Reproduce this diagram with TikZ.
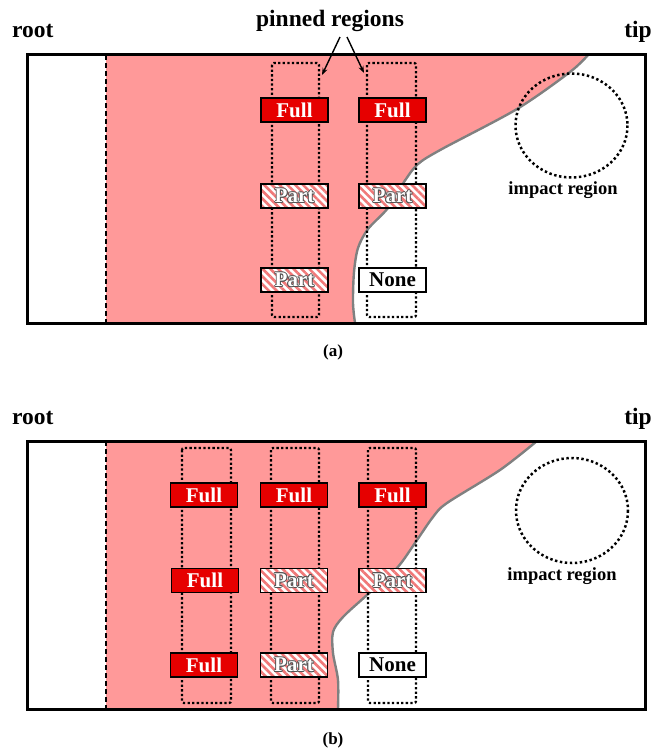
\documentclass[tikz,border=0pt]{standalone}
\usepackage{fontspec}
\setmainfont{Liberation Serif}
\usetikzlibrary{patterns.meta,arrows.meta}

\definecolor{zonepink}{RGB}{255,153,153}
\definecolor{fullred}{RGB}{230,0,0}
\definecolor{stripe}{RGB}{240,120,120}
\definecolor{halo}{RGB}{85,85,85}
\definecolor{edgegray}{RGB}{128,128,128}

% white lettering with a grey rim
\newcommand\halocopy[3]{\rlap{\hspace{#1}\raisebox{#2}{\textcolor{halo}{#3}}}}
\newcommand\halotext[1]{%
  \leavevmode
  \halocopy{-0.9pt}{0pt}{#1}\halocopy{0.9pt}{0pt}{#1}%
  \halocopy{0pt}{0.9pt}{#1}\halocopy{0pt}{-0.9pt}{#1}%
  \halocopy{-0.65pt}{0.65pt}{#1}\halocopy{0.65pt}{0.65pt}{#1}%
  \halocopy{-0.65pt}{-0.65pt}{#1}\halocopy{0.65pt}{-0.65pt}{#1}%
  \textcolor{white}{#1}}

\tikzset{
  cell/.style={minimum width=67pt,minimum height=24pt,inner sep=0pt,
    draw=black,line width=1.7pt,font=\fontsize{21}{21}\selectfont\bfseries},
  fullcell/.style={cell,fill=fullred,text=white},
  partcell/.style={cell,preaction={fill=white},
    pattern={Lines[angle=-45,distance=5.5pt,line width=2.6pt]},pattern color=stripe},
  nonecell/.style={cell,fill=white},
  pinbox/.style={draw=black,line width=2.3pt,dash pattern=on 2.3pt off 2.3pt,rounded corners=2pt},
  frame/.style={draw=black,line width=3pt},
  rootline/.style={line width=2pt,dash pattern=on 5pt off 3pt},
  front/.style={draw=edgegray,line width=2.4pt},
  impact/.style={line width=2.5pt,dash pattern=on 2.4pt off 2.6pt},
  lbl/.style={font=\fontsize{23.5}{23.5}\selectfont\bfseries,inner sep=0pt},
  smalltxt/.style={font=\fontsize{18.5}{18.5}\selectfont\bfseries,inner sep=0pt},
  captxt/.style={font=\fontsize{17}{17}\selectfont\bfseries,inner sep=0pt},
  pinarrow/.style={line width=1.4pt,-{Stealth[length=7pt,width=5pt]}}
}

\begin{document}
\begin{tikzpicture}[x=1pt,y=-1pt]
\useasboundingbox (0,0) rectangle (668,753);

% ---------------- panel (a) ----------------
\fill[zonepink] (106,55) -- plot[smooth,tension=0.5] coordinates {(588,55) (570,72) (517,109) (442,149) (418,164) (404,182) (388,208) (368,229) (358,248) (354,272) (353,303) (355,323)} -- (106,323) -- cycle;
\draw[front] plot[smooth,tension=0.5] coordinates {(588,55) (570,72) (517,109) (442,149) (418,164) (404,182) (388,208) (368,229) (358,248) (354,272) (353,303) (355,323)};
\draw[rootline] (106,55) -- (106,323);

\draw[pinbox] (272,63) rectangle (319,317);
\draw[pinbox] (367,63) rectangle (416,317);

\node[fullcell] (a11) at (294.5,110) {Full};
\node[fullcell] (a12) at (392.5,110) {Full};
\node[partcell] (a21) at (294.5,196) {\halotext{Part}};
\node[partcell] (a22) at (392.5,196) {\halotext{Part}};
\node[partcell] (a31) at (294.5,280) {\halotext{Part}};
\node[nonecell] (a32) at (392.5,280) {None};

\draw[frame] (27,54.5) rectangle (645,323);
\draw[impact] (571.5,125.5) ellipse [x radius=56, y radius=52];
\node[smalltxt] (aimp) at (563,190) {impact region};

\node[lbl,anchor=base west] (aroot) at (12,37) {root};
\node[lbl,anchor=base east] (atip) at (652,37) {tip};
\node[lbl,anchor=base] (pinlab) at (330,26) {pinned regions};
\coordinate (pinfromL) at (340,37);
\coordinate (pinfromR) at (347,37);
\coordinate (pintoL) at (322,75);
\coordinate (pintoR) at (364,73);
\draw[pinarrow] (pinfromL) -- (pintoL);
\draw[pinarrow] (pinfromR) -- (pintoR);

\node[captxt] (capa) at (333,352) {(a)};

% ---------------- panel (b) ----------------
\fill[zonepink] (106,441) -- plot[smooth,tension=0.5] coordinates {(537,441) (500,470) (447,503) (433,517) (417,540) (397,568) (367,595) (343,617) (333,632) (333,653) (338,680) (338,709)} -- (106,709) -- cycle;
\draw[front] plot[smooth,tension=0.5] coordinates {(537,441) (500,470) (447,503) (433,517) (417,540) (397,568) (367,595) (343,617) (333,632) (333,653) (338,680) (338,709)};
\draw[rootline] (106,441) -- (106,709);

\draw[pinbox] (182,448) rectangle (231,703);
\draw[pinbox] (271,448) rectangle (319,703);
\draw[pinbox] (368,448) rectangle (416,703);

\node[fullcell] (b11) at (204,495) {Full};
\node[fullcell] (b12) at (294,495) {Full};
\node[fullcell] (b13) at (392.5,495) {Full};
\node[fullcell] (b21) at (205,580.5) {Full};
\node[partcell] (b22) at (294,580.5) {\halotext{Part}};
\node[partcell] (b23) at (392.5,580.5) {\halotext{Part}};
\node[fullcell] (b31) at (204,665) {Full};
\node[partcell] (b32) at (294,665) {\halotext{Part}};
\node[nonecell] (b33) at (392.5,665) {None};

\draw[frame] (27,441) rectangle (645,709);
\draw[impact] (572,510.5) ellipse [x radius=56, y radius=52.5];
\node[smalltxt] (bimp) at (562,576) {impact region};

\node[lbl,anchor=base west] (broot) at (12,424) {root};
\node[lbl,anchor=base east] (btip) at (652,424) {tip};

\node[captxt] (capb) at (333,740) {(b)};
\end{tikzpicture}
\end{document}
